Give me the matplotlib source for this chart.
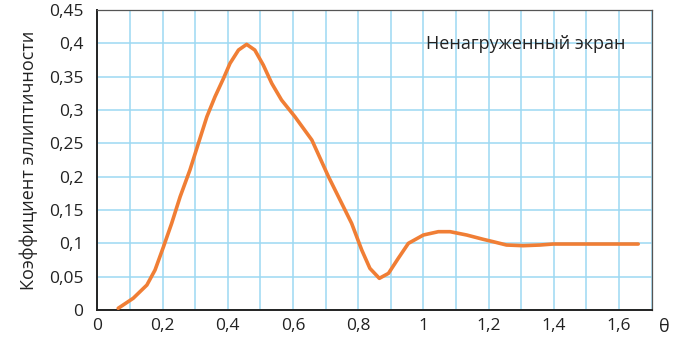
import matplotlib.pyplot as plt
from matplotlib.ticker import MultipleLocator

# значения
theta = [0.064, 0.110, 0.152, 0.177, 0.203, 0.228, 0.254, 0.284, 0.310, 0.336,
         0.361, 0.387, 0.407, 0.433, 0.458, 0.483, 0.509, 0.535, 0.565, 0.606,
         0.658, 0.709, 0.780, 0.811, 0.836, 0.865, 0.893, 0.923, 0.954, 1.000,
         1.046, 1.082, 1.133, 1.184, 1.214, 1.255, 1.306, 1.358, 1.398, 1.490, 1.659]
k_ell = [0.0026, 0.0176, 0.0375, 0.060, 0.095, 0.130, 0.170, 0.210, 0.250, 0.290,
         0.320, 0.3475, 0.370, 0.390, 0.3985, 0.390, 0.3675, 0.340, 0.315, 0.290,
         0.255, 0.200, 0.130, 0.090, 0.0625, 0.0475, 0.055, 0.0775, 0.100, 0.1125,
         0.1175, 0.1175, 0.1125, 0.106, 0.1025, 0.0975, 0.0965, 0.0975, 0.099, 0.099, 0.099]

xticks = [0, 0.2, 0.4, 0.6, 0.8, 1, 1.2, 1.4, 1.6]
yticks = [0, 0.05, 0.1, 0.15, 0.2, 0.25, 0.3, 0.35, 0.4, 0.45]

plt.rcParams['font.family'] = ['Open Sans', 'DejaVu Sans']

fig = plt.figure(figsize=(6.83, 3.46), dpi=100)
ax = fig.add_axes([0.1425, 0.104, 0.8115, 0.867])

ax.plot(theta, k_ell, color='#F07E35', lw=2.6, solid_joinstyle='round', solid_capstyle='round', zorder=3)

ax.set_xlim(0, 1.7)
ax.set_ylim(0, 0.45)
ax.xaxis.set_minor_locator(MultipleLocator(0.1))
ax.set_xticks(xticks)
ax.set_yticks(yticks)
ax.set_xticklabels([('%g' % v).replace('.', ',') for v in xticks])
ax.set_yticklabels([('%g' % v).replace('.', ',') for v in yticks])
ax.tick_params(which='both', length=0, labelsize=12.5, colors='#222222')
ax.tick_params(axis='y', pad=10)
ax.tick_params(axis='x', pad=6)
ax.grid(True, which='both', color='#9DD8F2', lw=1.1)

for s in ax.spines.values():
    s.set_color('#555555')
    s.set_linewidth(0.9)
ax.spines['bottom'].set_linewidth(1.4)
ax.spines['bottom'].set_color('#222222')
ax.spines['left'].set_linewidth(1.4)
ax.spines['left'].set_color('#222222')

ax.set_ylabel('Коэффициент эллиптичности', fontsize=13, color='#222222', labelpad=8)
ax.text(1.74, -0.026, 'θ', fontsize=13, color='#222222', ha='center', va='center', clip_on=False)
ax.text(1.313, 0.399, 'Ненагруженный экран', fontsize=13, color='#222222', ha='center', va='center')

fig.savefig('out.png', dpi=100)
